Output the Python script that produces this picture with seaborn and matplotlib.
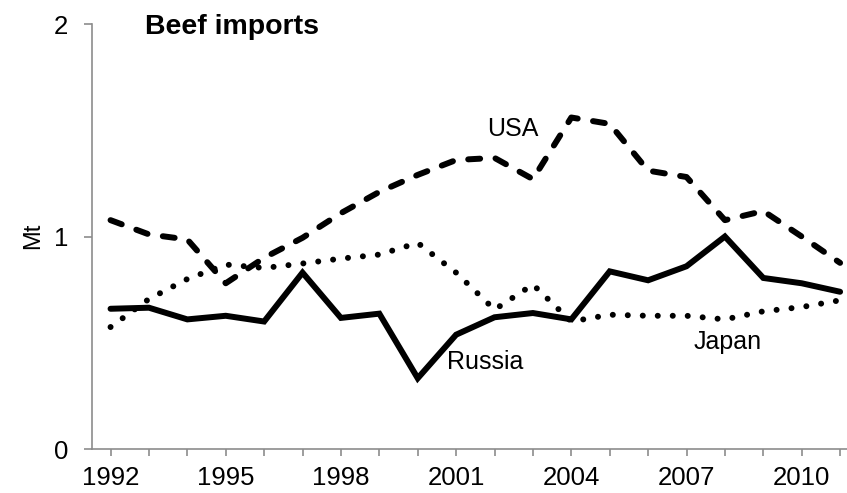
import matplotlib
matplotlib.use("Agg")
import matplotlib.pyplot as plt
import seaborn as sns
import pandas as pd

years = list(range(1992, 2012))
russia = [0.66, 0.665, 0.61, 0.627, 0.60, 0.83, 0.617, 0.637, 0.333, 0.538,
          0.62, 0.64, 0.61, 0.836, 0.794, 0.86, 1.0, 0.805, 0.78, 0.74]
usa = [1.077, 1.01, 0.986, 0.78, 0.90, 0.994, 1.11, 1.21, 1.29, 1.36,
       1.37, 1.27, 1.56, 1.53, 1.31, 1.28, 1.077, 1.12, 1.0, 0.876]
japan = [0.574, 0.706, 0.80, 0.868, 0.852, 0.873, 0.896, 0.915, 0.97, 0.83,
         0.656, 0.774, 0.60, 0.632, 0.627, 0.627, 0.61, 0.648, 0.668, 0.70]
tick_years = [1992, 1995, 1998, 2001, 2004, 2007, 2010]
y_ticks = [0, 1, 2]

sns.set_style("white")
plt.rcParams['font.family'] = ['Liberation Sans', 'DejaVu Sans']
plt.rcParams['text.color'] = 'black'
plt.rcParams['xtick.labelcolor'] = 'black'
plt.rcParams['ytick.labelcolor'] = 'black'

fig = plt.figure(figsize=(8.47, 4.93), dpi=100)
ax = fig.add_axes([0.1083, 0.0892, 0.8917, 0.8621])

df = pd.DataFrame({"year": years, "Russia": russia, "USA": usa, "Japan": japan})
lw = 4.3
sns.lineplot(data=df, x="year", y="Russia", ax=ax, color="black", lw=lw)
sns.lineplot(data=df, x="year", y="USA", ax=ax, color="black", lw=lw)
sns.lineplot(data=df, x="year", y="Japan", ax=ax, color="black", lw=lw)
l_r, l_u, l_j = ax.lines[0], ax.lines[1], ax.lines[2]
l_r.set_solid_joinstyle("miter")
l_u.set_dashes((2.0, 2.6))
l_u.set_dash_capstyle("round")
l_j.set_dashes((0.01, 2.5))
l_j.set_dash_capstyle("round")

ax.set_xlim(1991.51, 2011.18)
ax.set_ylim(0, 2)
ax.set_xticks(years)
ax.set_xticklabels([str(y) if y in tick_years else "" for y in years])
ax.set_yticks(y_ticks)
ax.set_yticklabels([str(v) for v in y_ticks])
ax.set_xlabel("")
ax.set_ylabel("")
for s in ["top", "right"]:
    ax.spines[s].set_visible(False)
for s in ["left", "bottom"]:
    ax.spines[s].set_color("#8c8c8c")
    ax.spines[s].set_linewidth(1.2)
ax.tick_params(axis="x", direction="out", length=5, width=1.2, color="#8c8c8c",
               pad=7, labelsize=18.5, labelcolor="black", bottom=True)
ax.tick_params(axis="y", direction="out", length=6, width=1.2, color="#8c8c8c",
               pad=11, labelsize=18.5, labelcolor="black", left=True)

ax.text(2002.48, 1.505, "USA", fontsize=18, color="black", ha="center", va="center")
ax.text(2001.75, 0.41, "Russia", fontsize=18, color="black", ha="center", va="center")
ax.text(2008.08, 0.505, "Japan", fontsize=18, color="black", ha="center", va="center")

fig.text(0.171, 0.945, "Beef imports", fontsize=20.5, fontweight="bold",
         color="black", ha="left", va="center")
fig.text(0.039, 0.521, "Mt", fontsize=17, rotation=90, color="black",
         ha="center", va="center")

fig.savefig("out.png", dpi=100)
